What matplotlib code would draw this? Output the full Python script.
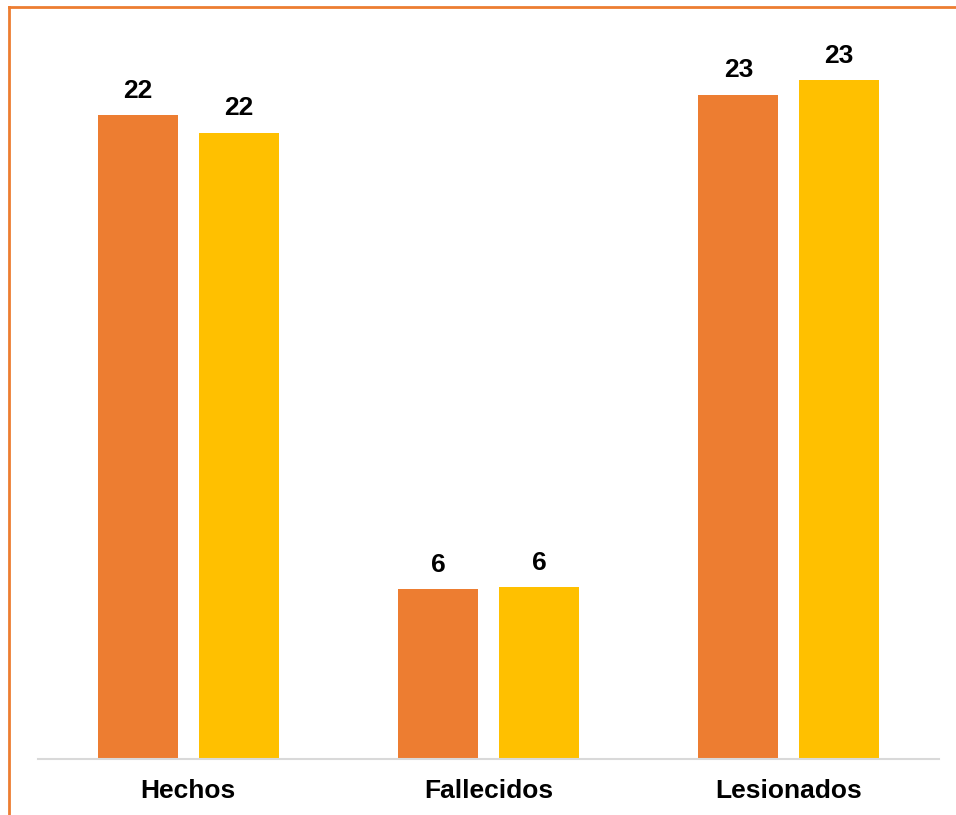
import matplotlib
matplotlib.use("Agg")
import matplotlib.pyplot as plt
from matplotlib.lines import Line2D

categories = ["Hechos", "Fallecidos", "Lesionados"]
series_a = [22.2, 5.86, 22.9]   # orange
series_b = [21.6, 5.93, 23.4]   # yellow

orange = "#ED7D31"
yellow = "#FFC000"

W, H = 956, 815
fig = plt.figure(figsize=(W / 100, H / 100), dpi=100)
ax = fig.add_axes([38 / W, (H - 759) / H, (939 - 38) / W, (759 - 34) / H])

x = list(range(len(categories)))
bw = 0.267
off = 0.168
bars_a = ax.bar([i - off for i in x], series_a, width=bw, color=orange)
bars_b = ax.bar([i + off for i in x], series_b, width=bw, color=yellow)

for bars, vals in ((bars_a, series_a), (bars_b, series_b)):
    for b, v in zip(bars, vals):
        ax.annotate(f"{v:.0f}", (b.get_x() + b.get_width() / 2, v),
                    xytext=(0, 9), textcoords="offset points",
                    ha="center", va="bottom", fontsize=19, fontweight="bold",
                    family="Liberation Sans", color="black")

ax.set_xlim(-0.5, 2.5)
ax.set_ylim(0, 25)
ax.set_xticks(x)
ax.set_xticklabels(categories, fontsize=19, fontweight="bold", family="Liberation Sans")
ax.tick_params(axis="x", length=0, pad=14.5)
ax.set_yticks([])
for s in ("top", "right", "left"):
    ax.spines[s].set_visible(False)
ax.spines["bottom"].set_color("#D9D9D9")
ax.spines["bottom"].set_linewidth(1.5)

# outer border (left and top)
fig.add_artist(Line2D([8.5 / W, 8.5 / W], [0, (H - 6.5) / H], transform=fig.transFigure,
                      color=orange, lw=2))
fig.add_artist(Line2D([8.5 / W, 1], [(H - 6.5) / H, (H - 6.5) / H], transform=fig.transFigure,
                      color=orange, lw=2))

fig.savefig("out.png", dpi=100)
